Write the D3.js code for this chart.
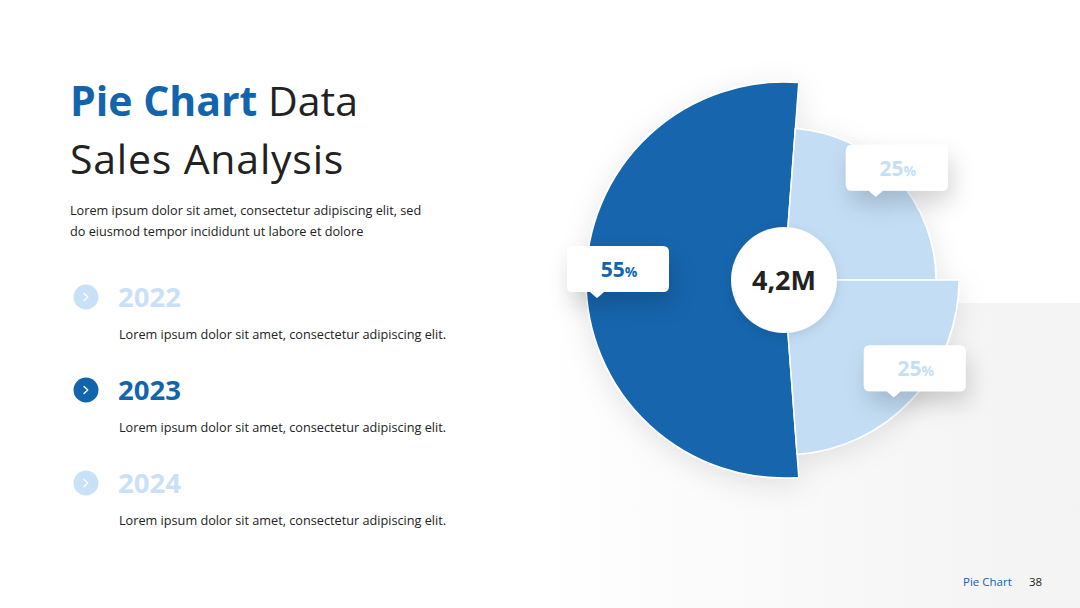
<!DOCTYPE html>
<html>
<head>
<meta charset="utf-8">
<script src="https://cdn.jsdelivr.net/npm/d3@7"></script>
<style>
  html, body { margin: 0; padding: 0; background: #fff; }
  svg { display: block; font-family: "Open Sans", "Noto Sans", sans-serif; }
</style>
</head>
<body>
<svg id="chart" width="1080" height="608"></svg>
<script>
// ---- data ----
const sliceNames = ["A", "B", "C"];
const sliceValues = [55, 25, 25];
const sliceLabels = ["55", "25", "25"];
const totalLabel = "4,2M";
const years = ["2022", "2023", "2024"];
const activeYear = "2023";
const yearTexts = [
  "Lorem ipsum dolor sit amet, consectetur adipiscing elit.",
  "Lorem ipsum dolor sit amet, consectetur adipiscing elit.",
  "Lorem ipsum dolor sit amet, consectetur adipiscing elit."
];
const titleStrong = "Pie Chart";
const titleRest = " Data";
const titleLine2 = "Sales Analysis";
const introLines = [
  "Lorem ipsum dolor sit amet, consectetur adipiscing elit, sed",
  "do eiusmod tempor incididunt ut labore et dolore"
];
const footerTitle = "Pie Chart";
const pageNumber = "38";

// ---- styles ----
const BLUE = "#1265ad";
const LIGHT = "#c3ddf4";
const DARK = "#222222";
const sliceColors = [BLUE, LIGHT, LIGHT];
const sliceRadii = [198, 152, 175];
const labelColors = [BLUE, "#c5dff6", "#c5dff6"];
const labelNudges = [[-4, -3], [-6, 6], [12, -14]];

const svg = d3.select("#chart");
const defs = svg.append("defs");

// background gradient panel
const bg = defs.append("linearGradient").attr("id", "bgGrad")
  .attr("x1", "0").attr("y1", "0").attr("x2", "1").attr("y2", "0");
bg.append("stop").attr("offset", "0").attr("stop-color", "#ffffff");
bg.append("stop").attr("offset", "0.55").attr("stop-color", "#f8f8f8");
bg.append("stop").attr("offset", "1").attr("stop-color", "#f3f3f3");

const pieShadow = defs.append("filter").attr("id", "pieShadow")
  .attr("x", "-30%").attr("y", "-30%").attr("width", "160%").attr("height", "160%");
pieShadow.append("feDropShadow").attr("dx", 0).attr("dy", 6).attr("stdDeviation", 14)
  .attr("flood-color", "#000").attr("flood-opacity", 0.10);

const boxShadow = defs.append("filter").attr("id", "boxShadow")
  .attr("x", "-60%").attr("y", "-80%").attr("width", "220%").attr("height", "300%");
boxShadow.append("feDropShadow").attr("dx", 4).attr("dy", 12).attr("stdDeviation", 11)
  .attr("flood-color", "#000").attr("flood-opacity", 0.16);

const circleShadow = defs.append("filter").attr("id", "circleShadow")
  .attr("x", "-50%").attr("y", "-50%").attr("width", "200%").attr("height", "200%");
circleShadow.append("feDropShadow").attr("dx", 0).attr("dy", 3).attr("stdDeviation", 6)
  .attr("flood-color", "#000").attr("flood-opacity", 0.10);

svg.append("rect").attr("x", 540).attr("y", 303).attr("width", 540).attr("height", 305)
  .attr("fill", "url(#bgGrad)");

// ---- title / text block ----
const title = svg.append("text").attr("x", 70).attr("y", 116)
  .attr("font-size", 41).attr("fill", DARK);
title.append("tspan").attr("font-weight", 700).attr("fill", BLUE).text(titleStrong);
title.append("tspan").attr("font-weight", 400).text(titleRest);
svg.append("text").attr("x", 70).attr("y", 174).attr("font-size", 41)
  .attr("letter-spacing", 0.8)
  .attr("fill", DARK).text(titleLine2);

svg.selectAll("text.intro").data(introLines).join("text")
  .attr("class", "intro")
  .attr("x", 70).attr("y", (d, i) => 215 + i * 21)
  .attr("font-size", 12.7).attr("fill", DARK).text(d => d);

const yScale = d3.scalePoint().domain(years).range([297, 483]);
const item = svg.selectAll("g.year").data(years).join("g")
  .attr("class", "year")
  .attr("transform", d => `translate(0,${yScale(d)})`);
item.append("circle").attr("cx", 86).attr("cy", 0).attr("r", 12.5)
  .attr("fill", d => d === activeYear ? BLUE : "#c9e1f7");
item.append("path").attr("d", "M-2,-3.5 L1.8,0 L-2,3.5")
  .attr("transform", "translate(86,0)")
  .attr("fill", "none").attr("stroke", "#fff").attr("stroke-width", 1.3)
  .attr("stroke-linecap", "round").attr("stroke-linejoin", "round");
item.append("text").attr("x", 118).attr("y", 10)
  .attr("font-size", 27.5).attr("font-weight", 700)
  .attr("fill", d => d === activeYear ? BLUE : "#c9e1f7")
  .text(d => d);
item.append("text").attr("x", 119).attr("y", 42)
  .attr("font-size", 12.7).attr("fill", DARK)
  .text((d, i) => yearTexts[i]);

// ---- pie ----
const cx = 784, cy = 280;
const share0 = sliceValues[0] / d3.sum(sliceValues);
const startA = -Math.PI / 2 - share0 * Math.PI;
const pie = d3.pie().sort(null).value(d => d)
  .startAngle(startA).endAngle(startA + 2 * Math.PI);
const arcs = pie(sliceValues);

const pg = svg.append("g").attr("transform", `translate(${cx},${cy})`);
pg.append("g").attr("filter", "url(#pieShadow)")
  .selectAll("path").data(arcs).join("path")
  .attr("d", (d, i) => d3.arc().innerRadius(0).outerRadius(sliceRadii[i])(d))
  .attr("fill", (d, i) => sliceColors[i])
  .attr("stroke", "#ffffff").attr("stroke-width", 1.5).attr("stroke-linejoin", "round");

pg.append("circle").attr("r", 53).attr("fill", "#fff").attr("filter", "url(#circleShadow)");
pg.append("text").attr("x", 0).attr("y", 10).attr("text-anchor", "middle")
  .attr("font-size", 27).attr("font-weight", 700).attr("fill", DARK)
  .text(totalLabel);

// ---- callouts ----
const labelArc = d3.arc().innerRadius(162).outerRadius(162);
const bw = 102, bh = 46;
const callouts = pg.selectAll("g.callout").data(arcs).join("g")
  .attr("class", "callout")
  .attr("transform", (d, i) => {
    const c = labelArc.centroid(d);
    return `translate(${c[0] + labelNudges[i][0]},${c[1] - 8 + labelNudges[i][1]})`;
  });
callouts.append("path")
  .attr("d", () => {
    const x0 = -bw / 2, y0 = -bh / 2, r = 6, px = -21, py = bh / 2;
    return `M${x0 + r},${y0} H${bw / 2 - r} Q${bw / 2},${y0} ${bw / 2},${y0 + r}` +
      ` V${py - r} Q${bw / 2},${py} ${bw / 2 - r},${py}` +
      ` H${px + 7} L${px},${py + 6} L${px - 7},${py}` +
      ` H${x0 + r} Q${x0},${py} ${x0},${py - r} V${y0 + r} Q${x0},${y0} ${x0 + r},${y0} Z`;
  })
  .attr("fill", "#fff").attr("filter", "url(#boxShadow)");
const lt = callouts.append("text").attr("x", 1).attr("y", 8).attr("text-anchor", "middle")
  .attr("fill", (d, i) => labelColors[i]).attr("font-weight", 700);
lt.append("tspan").attr("font-size", 21).text((d, i) => sliceLabels[i]);
lt.append("tspan").attr("font-size", 14).text("%");

// ---- footer ----
svg.append("text").attr("x", 963).attr("y", 586).attr("font-size", 11.5)
  .attr("fill", BLUE).text(footerTitle);
svg.append("text").attr("x", 1029).attr("y", 586).attr("font-size", 11.5)
  .attr("fill", DARK).text(pageNumber);
</script>
</body>
</html>
